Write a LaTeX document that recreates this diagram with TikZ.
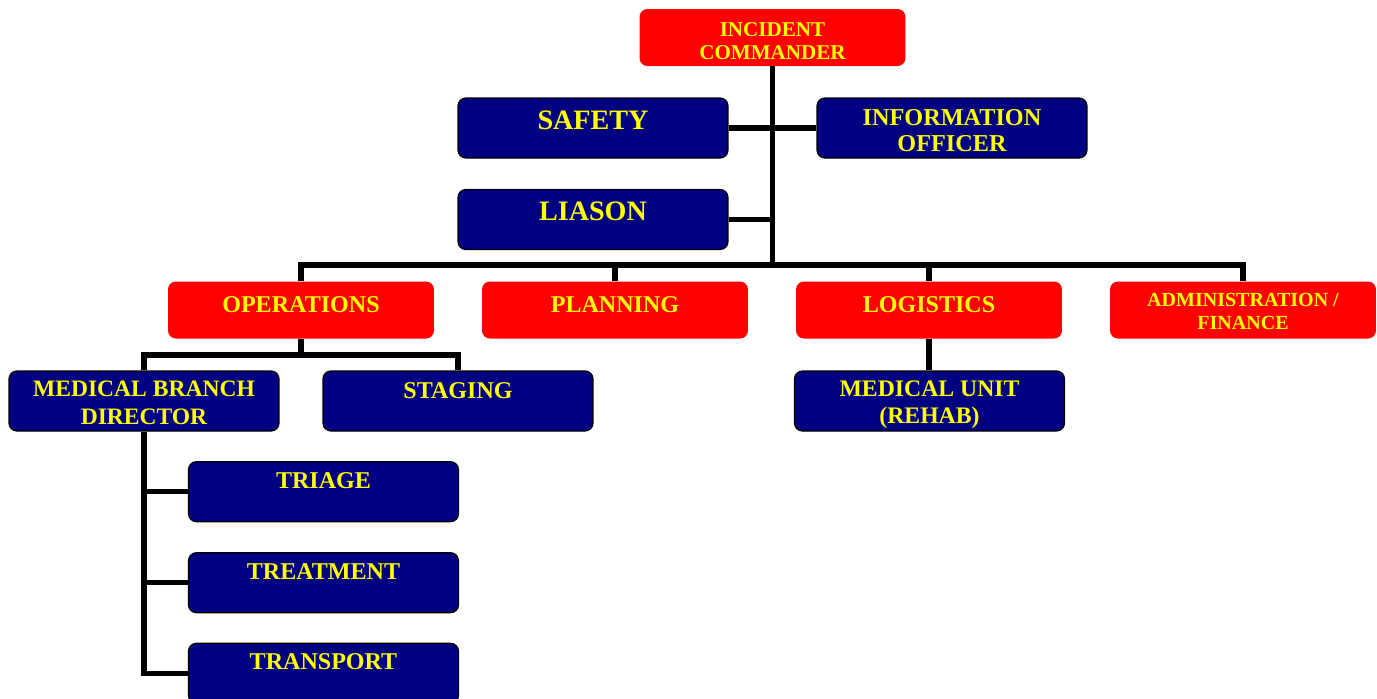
\documentclass[tikz,border=0pt]{standalone}
\usepackage{fontspec}
\setmainfont{Liberation Serif}
\definecolor{icsred}{HTML}{FF0000}
\definecolor{icsnavy}{HTML}{000080}
\definecolor{icsyellow}{HTML}{FFFF00}

\begin{document}
\begin{tikzpicture}[x=0.02cm,y=-0.02cm,
  redbox/.style={fill=icsred,draw=none,rounded corners=4.5pt,minimum width=5.32cm,minimum height=1.14cm,inner sep=0pt,text=icsyellow,align=center},
  bluebox/.style={fill=icsnavy,draw=black,line width=0.7pt,rounded corners=4.5pt,minimum width=5.4cm,minimum height=1.2cm,inner sep=0pt,text=icsyellow,align=center},
  conn/.style={line width=2.9pt}]
\useasboundingbox (0,0) rectangle (1377,698);

% command staff
\node[redbox,font=\fontsize{12}{13.2}\selectfont\bfseries,text height=24.7pt,text depth=0pt] (ic) at (772.5,37.5) {INCIDENT\\COMMANDER};
\node[bluebox,font=\fontsize{16}{18}\selectfont\bfseries,text height=11pt,text depth=9.75pt] (safety) at (593,128) {SAFETY};
\node[bluebox,font=\fontsize{13.8}{15.1}\selectfont\bfseries,text height=26.9pt,text depth=0pt] (info) at (952,128) {INFORMATION\\OFFICER};
\node[bluebox,font=\fontsize{16}{18}\selectfont\bfseries,text height=10.5pt,text depth=9.9pt] (liason) at (593,219.5) {LIASON};

% general staff
\node[redbox,font=\fontsize{13.7}{15}\selectfont\bfseries,text height=10pt,text depth=7.7pt] (ops) at (301,310) {OPERATIONS};
\node[redbox,font=\fontsize{13.7}{15}\selectfont\bfseries,text height=10pt,text depth=7.7pt] (plan) at (615,310) {PLANNING};
\node[redbox,font=\fontsize{13.7}{15}\selectfont\bfseries,text height=10pt,text depth=7.7pt] (logi) at (929,310) {LOGISTICS};
\node[redbox,font=\fontsize{11.4}{12.8}\selectfont\bfseries,text height=21.9pt,text depth=0pt] (admin) at (1243,310) {ADMINISTRATION /\\FINANCE};

% branches and units
\node[bluebox,font=\fontsize{13.4}{15.7}\selectfont\bfseries,text height=26.4pt,text depth=0pt] (mbd) at (144,401) {MEDICAL BRANCH\\DIRECTOR};
\node[bluebox,font=\fontsize{13.7}{15}\selectfont\bfseries,text height=9pt,text depth=12.3pt] (staging) at (458,401) {STAGING};
\node[bluebox,font=\fontsize{13.5}{15.8}\selectfont\bfseries,text height=26.1pt,text depth=0pt] (medunit) at (929.5,401) {MEDICAL UNIT\\(REHAB)};
\node[bluebox,font=\fontsize{13.7}{15}\selectfont\bfseries,text height=9pt,text depth=13.2pt] (triage) at (323.5,491.7) {TRIAGE};
\node[bluebox,font=\fontsize{13.7}{15}\selectfont\bfseries,text height=9pt,text depth=13.2pt] (treat) at (323.5,582.7) {TREATMENT};
\node[bluebox,font=\fontsize{13.7}{15}\selectfont\bfseries,text height=9pt,text depth=13.2pt] (transp) at (323.5,673.3) {TRANSPORT};

% connectors
\coordinate (bus) at (0,265);
\coordinate (opsbus) at (0,355);
\draw[conn] (ic.south) -- (ic.south |- bus);
\draw[conn] (safety.east) -- (info.west);
\draw[conn] (liason.east) -- (liason.east -| ic.south);
\draw[conn] (ops.north) |- (admin.north |- bus) -- (admin.north);
\draw[conn] (plan.north) -- (plan.north |- bus);
\draw[conn] (logi.north) -- (logi.north |- bus);
\draw[conn] (ops.south) -- (ops.south |- opsbus);
\draw[conn] (mbd.north) |- (staging.north |- opsbus) -- (staging.north);
\draw[conn] (logi.south) -- (logi.south |- medunit.north);
\draw[conn] (mbd.south) |- (transp.west);
\draw[conn] (mbd.south |- triage.west) -- (triage.west);
\draw[conn] (mbd.south |- treat.west) -- (treat.west);
\end{tikzpicture}
\end{document}
